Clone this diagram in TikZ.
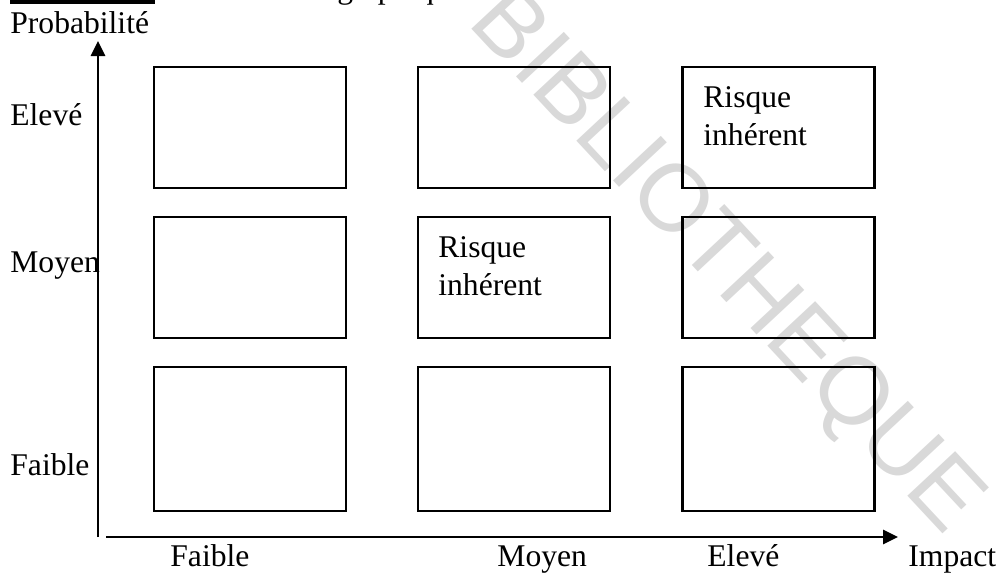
\documentclass[tikz,border=0pt]{standalone}
\usepackage{fontspec}
\setmainfont{Liberation Serif}
\newfontfamily\wmfont{Liberation Sans}
\usetikzlibrary{arrows.meta}

\tikzset{
  lbl/.style={anchor=base west, inner sep=0pt, font=\fontsize{15.8}{19}\selectfont},
  cell/.style={draw=black, line width=1.2pt, minimum width=96pt, inner sep=0pt},
  axis/.style={line width=1.4pt, -{Triangle[length=7.5pt, width=7pt]}},
  stamp/.style={font=\wmfont\fontsize{47.5}{57}\selectfont, text=black!15, rotate=-47, inner sep=0pt}
}

\begin{document}
\begin{tikzpicture}[x=0.5pt, y=-0.5pt]
  \useasboundingbox (0,0) rectangle (1000,574);

  % library stamp across the page
  \node[stamp] (stamp) at (724,264) {BIBLIOTHEQUE};

  % caption strip at the top edge
  \fill[black] (10,0) rectangle (155,4);
  \begin{scope}
    \clip (0,0) rectangle (1000,5);
    \node[lbl] (caption) at (337,-2) {graphique};
  \end{scope}

  % 3x3 grid of cells
  \node[cell, minimum height=60.5pt] (c13) at (250,127.5) {};
  \node[cell, minimum height=60.5pt] (c23) at (514,127.5) {};
  \node[cell, minimum height=60.5pt] (c33) at (778.5,127.5) {};
  \node[cell, minimum height=60.5pt] (c12) at (250,277.5) {};
  \node[cell, minimum height=60.5pt] (c22) at (514,277.5) {};
  \node[cell, minimum height=60.5pt] (c32) at (778.5,277.5) {};
  \node[cell, minimum height=72pt] (c11) at (250,439) {};
  \node[cell, minimum height=72pt] (c21) at (514,439) {};
  \node[cell, minimum height=72pt] (c31) at (778.5,439) {};

  % cell texts
  \node[lbl] (r33a) at (703,107) {Risque};
  \node[lbl] (r33b) at (703,145) {inhérent};
  \node[lbl] (r22a) at (438,257) {Risque};
  \node[lbl] (r22b) at (438,295) {inhérent};

  % axes
  \coordinate (yb) at (98,537);
  \coordinate (yt) at (98,41);
  \coordinate (xl) at (106,537);
  \coordinate (xr) at (898,537);
  \draw[axis] (yb) -- (yt);
  \draw[axis] (xl) -- (xr);

  % axis titles
  \node[lbl] (ytitle) at (10,33) {Probabilité};
  \node[lbl] (xtitle) at (908,566) {Impact};

  % probability levels
  \node[lbl] (pE) at (10,125) {Elevé};
  \node[lbl] (pM) at (10,272) {Moyen};
  \node[lbl] (pF) at (10,475) {Faible};

  % impact levels
  \node[lbl] (iF) at (170,566) {Faible};
  \node[lbl] (iM) at (497,566) {Moyen};
  \node[lbl] (iE) at (707,566) {Elevé};
\end{tikzpicture}
\end{document}
